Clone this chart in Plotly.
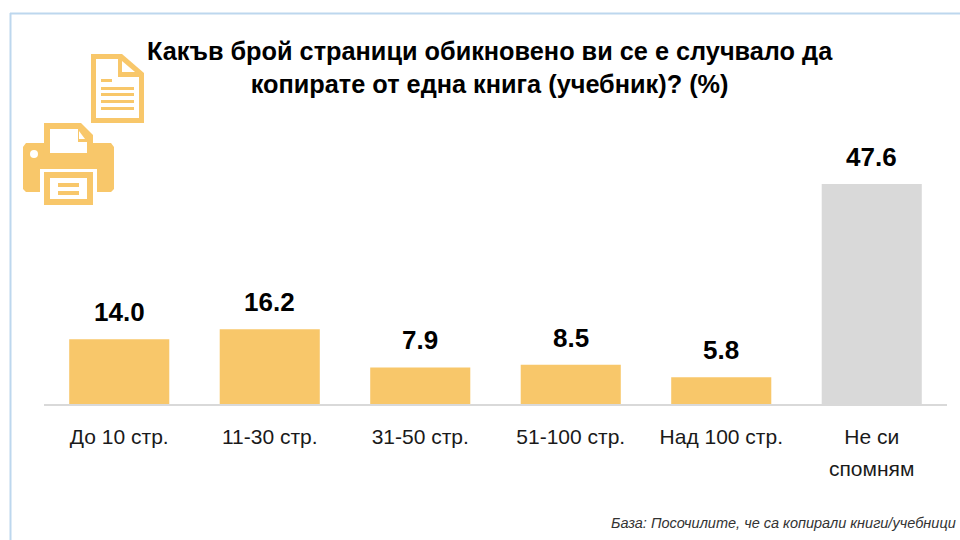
import plotly.graph_objects as go

categories = ["До 10 стр.", "11-30 стр.", "31-50 стр.", "51-100 стр.", "Над 100 стр.", "Не си"]
second_line = "спомням"
values = [14.0, 16.2, 7.9, 8.5, 5.8, 47.6]
value_labels = ["14.0", "16.2", "7.9", "8.5", "5.8", "47.6"]
bar_colors = ["#F8C76A"] * 5 + ["#D9D9D9"]
title_text = "Какъв брой страници обикновено ви се е случвало да<br>копирате от една книга (учебник)? (%)"
note_text = "База: Посочилите, че са копирали книги/учебници"

W, H = 960, 540
FONT = "Liberation Sans, Arial, sans-serif"
ICON = "#F8C76A"


def px(*pts):
    return " L ".join(f"{x / W:.5f} {1 - y / H:.5f}" for x, y in pts)


def poly(pts, color):
    return dict(type="path", xref="paper", yref="paper", path="M " + px(*pts) + " Z",
                fillcolor=color, line=dict(width=0), layer="above")


def rect(x0, y0, x1, y1, color):
    return poly([(x0, y0), (x1, y0), (x1, y1), (x0, y1)], color)


shapes = [
    # frame
    dict(type="line", xref="paper", yref="paper", x0=10.5 / W, x1=10.5 / W, y0=0, y1=1 - 13 / H,
         line=dict(color="#BDD7EE", width=2)),
    dict(type="line", xref="paper", yref="paper", x0=10 / W, x1=1, y0=1 - 13.5 / H, y1=1 - 13.5 / H,
         line=dict(color="#BDD7EE", width=2)),
    # document icon
    poly([(91, 54), (122, 54), (144, 73), (144, 123), (91, 123)], ICON),
    poly([(96, 59), (118, 59), (118, 77), (139, 77), (139, 118), (96, 118)], "#FFFFFF"),
    poly([(122, 61), (135, 72), (122, 72)], "#FFFFFF"),
    rect(101, 79, 112, 82, ICON),
    rect(101, 87, 134, 90, ICON),
    rect(101, 93, 134, 96, ICON),
    rect(101, 100, 134, 103, ICON),
    rect(101, 107, 134, 110, ICON),
    # printer icon
    poly([(23, 147), (26, 143), (111, 143), (114, 147), (114, 189), (111, 192), (97, 192), (97, 169),
          (40, 169), (40, 192), (26, 192), (23, 189)], ICON),
    poly([(44, 123), (81, 123), (93, 135), (93, 153), (44, 153)], ICON),
    poly([(50, 129), (78, 129), (78, 142), (87, 142), (87, 153), (50, 153)], "#FFFFFF"),
    poly([(79, 131), (85, 139), (79, 139)], "#FFFFFF"),
    poly([(44, 172), (93, 172), (93, 205), (44, 205)], ICON),
    rect(50, 178, 87, 199, "#FFFFFF"),
    rect(58, 183, 79, 187, ICON),
    rect(58, 191, 79, 195, ICON),
    dict(type="circle", xref="paper", yref="paper", x0=30 / W, x1=38 / W, y0=1 - 158 / H, y1=1 - 150 / H,
         fillcolor="#FFFFFF", line=dict(width=0), layer="above"),
]

fig = go.Figure(go.Bar(
    x=categories, y=values, marker=dict(color=bar_colors, line=dict(width=0)), hoverinfo="skip",
))

label_annotations = [
    dict(text=f"<b>{t}</b>", x=c, y=v, xref="x", yref="y", yshift=27, xanchor="center", yanchor="middle",
         showarrow=False, font=dict(family=FONT, size=26, color="#000000"))
    for c, v, t in zip(categories, values, value_labels)
]

fig.update_layout(
    width=W, height=H, margin=dict(l=0, r=0, t=0, b=0), paper_bgcolor="#FFFFFF", plot_bgcolor="#FFFFFF",
    showlegend=False, bargap=0.335, shapes=shapes, font=dict(family=FONT),
    xaxis=dict(domain=[44 / W, 947 / W], showline=True, linecolor="#D9D9D9", linewidth=2, ticks="",
               showgrid=False, tickfont=dict(family=FONT, size=21, color="#1A1A1A"),
               ticklabelstandoff=13, tickangle=0, type="category"),
    yaxis=dict(domain=[1 - 404 / H, 1 - 130 / H], range=[0, 274 / (220 / 47.6)], visible=False),
    annotations=label_annotations + [
        dict(text=f"<b>{title_text}</b>", xref="paper", yref="paper", x=490 / W, y=1 - 68 / H, xanchor="center",
             yanchor="middle", showarrow=False, align="center",
             font=dict(family=FONT, size=25.3, color="#000000")),
        dict(text=second_line, xref="x", yref="paper", x=categories[5], y=1 - 468 / H, xanchor="center",
             yanchor="middle", showarrow=False, font=dict(family=FONT, size=21, color="#1A1A1A")),
        dict(text=f"<i>{note_text}</i>", xref="paper", yref="paper", x=958 / W, y=1 - 523 / H, xanchor="right",
             yanchor="middle", showarrow=False, font=dict(family=FONT, size=14.5, color="#333333")),
    ],
)
fig.write_html("out.html", config={"displayModeBar": False},
               post_script="document.body.style.margin='0';document.documentElement.style.overflow='hidden';")
